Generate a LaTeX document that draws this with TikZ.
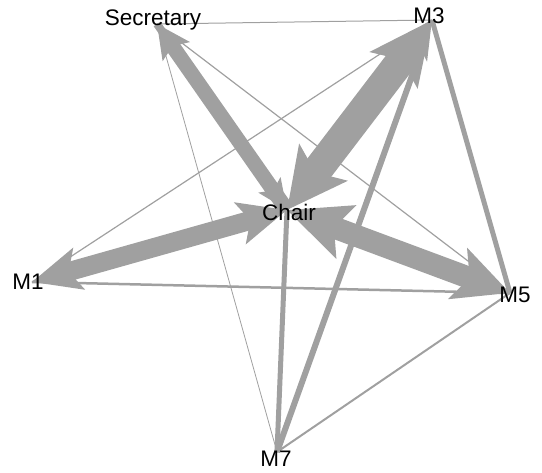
\documentclass[tikz,border=0pt]{standalone}
\usepackage{fontspec}
\setmainfont{Liberation Sans}
\usetikzlibrary{arrows.meta}
\definecolor{edgegray}{RGB}{160,160,160}

\begin{document}
\begin{tikzpicture}[x=1pt,y=-1pt,
    lbl/.style={font=\fontsize{22.5}{22.5}\selectfont,inner sep=0pt},
    edge/.style={draw=edgegray,line cap=butt}]
    \useasboundingbox (0,0) rectangle (542,473);
    % vertices
    \foreach \n/\x/\y in {sec/157/24, mthree/432/20, chair/287/210, mone/32/282, mfive/510/293, mseven/277/452} {
        \coordinate (\n) at (\x,\y);
    }
    % thin edges
    \draw[edge,line width=1pt] (sec) -- (mthree);
    \draw[edge,line width=0.8pt] (sec) -- (mseven);
    \draw[edge,line width=1.2pt] (sec) -- (mfive);
    \draw[edge,line width=1.2pt] (mone) -- (mthree);
    \draw[edge,line width=2.5pt] (mone) -- (mfive);
    \draw[edge,line width=2pt] (mfive) -- (mseven);
    \draw[edge,line width=5pt] (mthree) -- (mfive);
    \draw[edge,line width=5pt] (chair) -- (mseven);
    \draw[edge,line width=6pt,-{Stealth[length=40pt,width=18pt,inset=8pt]}] (mseven) -- (mthree);
    % thick edges
    \draw[edge,line width=8pt,-{Stealth[length=30pt,width=26pt,inset=6pt]}] (sec) -- (chair);
    \draw[edge,line width=15pt,-{Stealth[length=33pt,width=32pt,inset=6pt]}] (chair) -- (sec);
    \draw[edge,line width=19pt,{Stealth[length=48pt,width=42pt,inset=10pt]}-{Stealth[length=48pt,width=42pt,inset=10pt]}] (chair) -- (mone);
    \draw[edge,line width=22pt,{Stealth[length=62pt,width=55pt,inset=12pt]}-{Stealth[length=55pt,width=53pt,inset=12pt]}] (chair) -- (mfive);
    \draw[edge,line width=30pt,{Stealth[length=59pt,width=59pt,inset=12pt]}-{Stealth[length=62pt,width=58pt,inset=12pt]}] (chair) -- (mthree);
    % labels
    \node[lbl] (seclbl) at (153,20) {Secretary};
    \node[lbl] (mthreelbl) at (429,16) {M3};
    \node[lbl] (chairlbl) at (289,212) {Chair};
    \node[lbl] (monelbl) at (28,282) {M1};
    \node[lbl] (mfivelbl) at (515,295) {M5};
    \node[lbl] (msevenlbl) at (276,459) {M7};
\end{tikzpicture}
\end{document}
